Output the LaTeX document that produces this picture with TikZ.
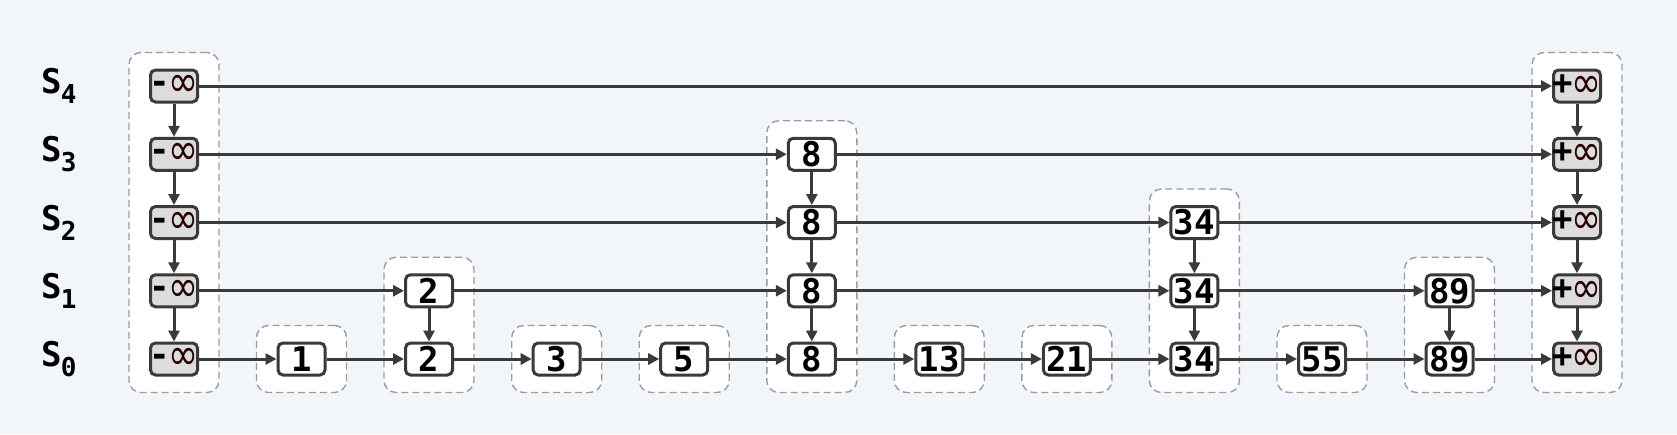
\documentclass[tikz,border=0pt]{standalone}
\usepackage{fontspec}
\setmonofont{DejaVu Sans Mono}
\newfontfamily\infont{DejaVu Sans}
\usetikzlibrary{arrows.meta,fit,backgrounds}

\definecolor{paper}{HTML}{F2F5FA}
\definecolor{ink}{HTML}{3A3A3A}
\definecolor{sentfill}{HTML}{DCDCDC}
\definecolor{towerline}{HTML}{9C9C9C}

\newcommand{\lvl}[1]{S\kern-1pt\raisebox{-10pt}{\fontsize{26}{26}\selectfont #1}}
\newcommand{\infsym}{\kern-2pt\raisebox{-3pt}{\scalebox{1.2}[1.45]{\infont\mdseries\fontsize{30}{30}\selectfont\color{black!85!red}∞}}}
\newcommand{\sent}[1]{\makebox[40pt][c]{#1\infsym}}

\tikzset{
  key/.style={draw=ink, line width=3pt, rounded corners=5pt, fill=white,
    minimum width=47pt, minimum height=32pt, inner sep=0pt,
    font=\ttfamily\bfseries\fontsize{34}{34}\selectfont},
  sentinel/.style={key, fill=sentfill},
  link/.style={draw=ink, line width=3pt, -{Triangle[length=11pt,width=11pt]}},
  tower/.style={draw=towerline, fill=white, line width=1.4pt,
    dash pattern=on 7pt off 4pt, rounded corners=12pt,
    inner xsep=20pt, inner ysep=16pt},
  level/.style={font=\ttfamily\bfseries\fontsize{34}{34}\selectfont}
}

\begin{document}
\begin{tikzpicture}[x=1pt, y=-1pt]
\useasboundingbox (0,0) rectangle (1677,434);

% sentinels and level names
\foreach \l in {0,...,4} {
  \node[sentinel] (lo\l) at (174, 359-68.25*\l) {\sent{-}};
  \node[sentinel] (hi\l) at (1577, 359-68.25*\l) {\sent{+}};
  \node[level] (s\l) at (59, 359-68.25*\l) {\lvl{\l}};
}

% keys, \h = top level of the tower
\foreach \v/\x/\h in {1/301.5/0, 2/429/1, 3/556.7/0, 5/684.2/0, 8/811.8/3,
    13/939.3/0, 21/1066.9/0, 34/1194.4/2, 55/1322/0, 89/1449.5/1}
  \foreach \l in {0,...,\h}
    \node[key] (n\v s\l) at (\x, 359-68.25*\l) {\v};

% down links
\foreach \l [evaluate=\l as \k using int(\l-1)] in {1,...,4}
  \draw[link] (lo\l) -- (lo\k);
\foreach \l [evaluate=\l as \k using int(\l-1)] in {1,...,4}
  \draw[link] (hi\l) -- (hi\k);
\draw[link] (n2s1) -- (n2s0);
\draw[link] (n8s3) -- (n8s2);
\draw[link] (n8s2) -- (n8s1);
\draw[link] (n8s1) -- (n8s0);
\draw[link] (n34s2) -- (n34s1);
\draw[link] (n34s1) -- (n34s0);
\draw[link] (n89s1) -- (n89s0);

% level links
\draw[link] (lo4) -- (hi4);
\draw[link] (lo3) -- (n8s3);
\draw[link] (n8s3) -- (hi3);
\draw[link] (lo2) -- (n8s2);
\draw[link] (n8s2) -- (n34s2);
\draw[link] (n34s2) -- (hi2);
\draw[link] (lo1) -- (n2s1);
\draw[link] (n2s1) -- (n8s1);
\draw[link] (n8s1) -- (n34s1);
\draw[link] (n34s1) -- (n89s1);
\draw[link] (n89s1) -- (hi1);
\draw[link] (lo0) -- (n1s0);
\draw[link] (n1s0) -- (n2s0);
\draw[link] (n2s0) -- (n3s0);
\draw[link] (n3s0) -- (n5s0);
\draw[link] (n5s0) -- (n8s0);
\draw[link] (n8s0) -- (n13s0);
\draw[link] (n13s0) -- (n21s0);
\draw[link] (n21s0) -- (n34s0);
\draw[link] (n34s0) -- (n55s0);
\draw[link] (n55s0) -- (n89s0);
\draw[link] (n89s0) -- (hi0);

% towers behind everything
\begin{scope}[on background layer]
\fill[paper] (0,0) rectangle (1677,434);
\node[tower, fit=(lo0)(lo4)] (tlo) {};
\node[tower, fit=(n1s0)] (t1) {};
\node[tower, fit=(n2s0)(n2s1)] (t2) {};
\node[tower, fit=(n3s0)] (t3) {};
\node[tower, fit=(n5s0)] (t5) {};
\node[tower, fit=(n8s0)(n8s3)] (t8) {};
\node[tower, fit=(n13s0)] (t13) {};
\node[tower, fit=(n21s0)] (t21) {};
\node[tower, fit=(n34s0)(n34s2)] (t34) {};
\node[tower, fit=(n55s0)] (t55) {};
\node[tower, fit=(n89s0)(n89s1)] (t89) {};
\node[tower, fit=(hi0)(hi4)] (thi) {};
\end{scope}
\end{tikzpicture}
\end{document}
